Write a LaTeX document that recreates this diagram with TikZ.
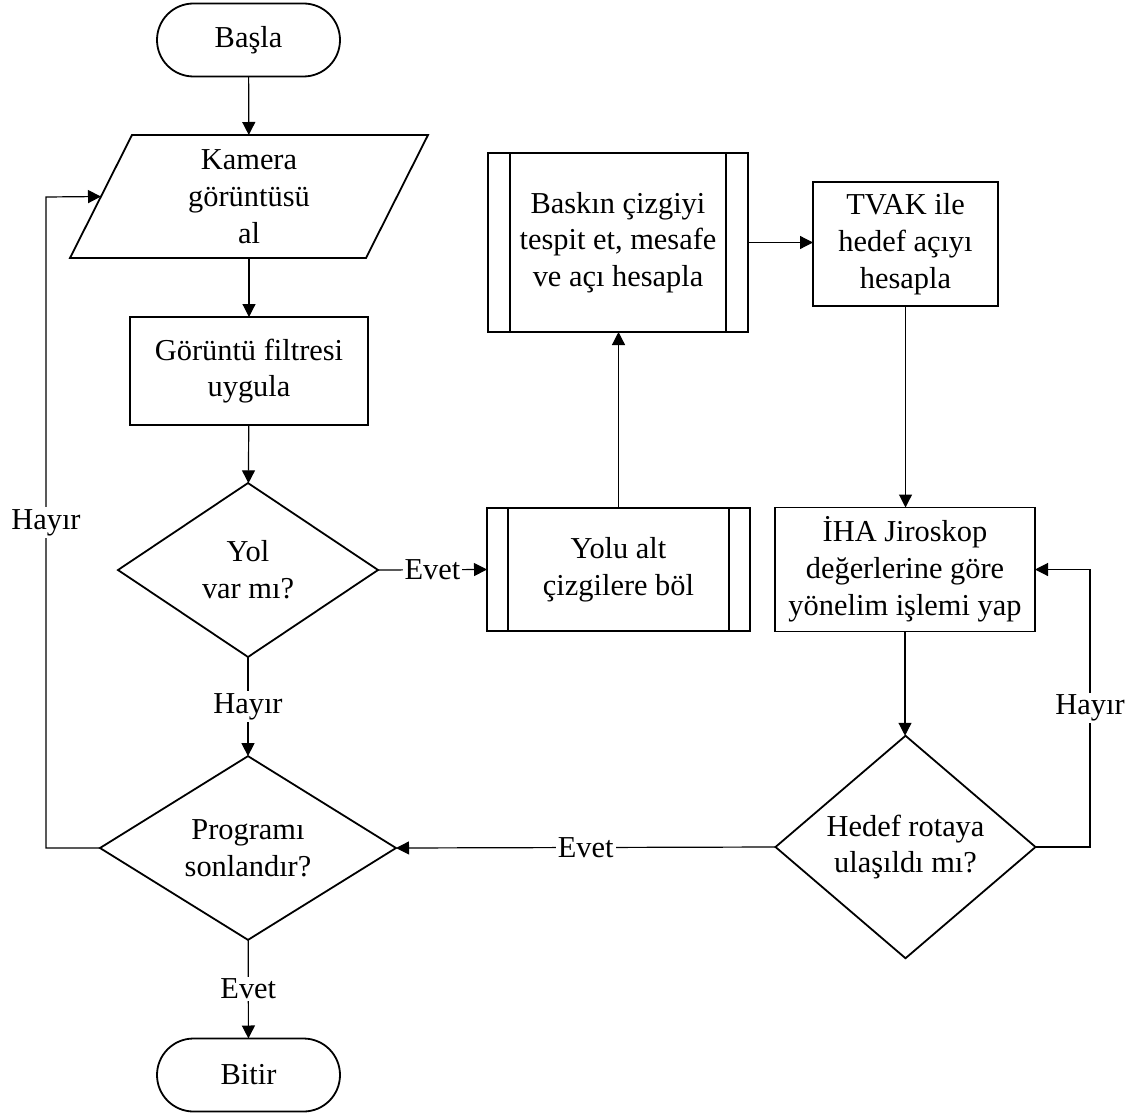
\documentclass[tikz,border=0pt]{standalone}
\usepackage{fontspec}
\setmainfont{Liberation Serif}
\usetikzlibrary{shapes.geometric,shapes.misc,arrows.meta}
\begin{document}
\begin{tikzpicture}[
  x=0.5pt, y=-0.5pt,
  every node/.style={font=\fontsize{15.2}{18.4}\selectfont, align=center},
  shp/.style={draw, line width=0.9pt, inner sep=0pt, outer sep=0pt},
  term/.style={shp, rounded rectangle, minimum width=91.5pt, minimum height=36.5pt},
  box/.style={shp, rectangle},
  decision/.style={shp, diamond},
  arr/.style={line width=0.6pt, -{Triangle[length=6.5pt,width=6.5pt]}},
  lbl/.style={fill=white, inner sep=1pt}
]
\useasboundingbox (0,0) rectangle (1138,1117);

% terminals
\node[term] (start) at (248.5,40) {Başla};
\node[term] (stop) at (248.5,1075) {Bitir};

% input (parallelogram drawn around a plain node)
\node[inner sep=0pt, outer sep=0pt, minimum width=148pt, minimum height=61.5pt] (cam) at (249,196.5)
  {Kamera\\görüntüsü\\al};
\draw[line width=0.9pt] ([xshift=15.5pt]cam.north west) -- ([xshift=15.5pt]cam.north east)
  -- ([xshift=-15.5pt]cam.south east) -- ([xshift=-15.5pt]cam.south west) -- cycle;

% processes
\node[box, minimum width=119pt, minimum height=54pt] (filt) at (249,371) {Görüntü filtresi\\uygula};
\node[box, minimum width=131.5pt, minimum height=61.5pt] (yolu) at (618.5,569.5) {Yolu alt\\çizgilere böl};
\node[box, minimum width=130pt, minimum height=89.5pt] (bask) at (618,242.5) {Baskın çizgiyi\\tespit et, mesafe\\ve açı hesapla};
\node[box, minimum width=92.5pt, minimum height=62pt] (tvak) at (905.5,244) {TVAK ile\\hedef açıyı\\hesapla};
\node[box, minimum width=130pt, minimum height=62pt] (iha) at (905,569.5) {İHA Jiroskop\\değerlerine göre\\yönelim işlemi yap};

% side bars of the predefined processes
\foreach \n/\o in {yolu/10.5pt, bask/11pt}{
  \draw[line width=0.9pt] ([xshift=\o]\n.north west) -- ([xshift=\o]\n.south west);
  \draw[line width=0.9pt] ([xshift=-\o]\n.north east) -- ([xshift=-\o]\n.south east);
}

% decisions
\node[decision, minimum width=130pt, minimum height=87pt] (yol) at (248,570) {Yol\\var mı?};
\node[decision, minimum width=148pt, minimum height=87.5pt] (prog) at (248,848) {Programı\\sonlandır?};
\node[decision, minimum width=130pt, minimum height=98pt] (hedef) at (905.5,847) {Hedef rotaya\\ulaşıldı mı?};

% loop corners
\coordinate (lloop) at (46,197);
\coordinate (rloop) at (1090,570);

% connectors
\draw[arr] (start) -- (cam);
\draw[arr] (cam) -- (filt);
\draw[arr] (filt) -- (yol);
\draw[arr] (yol.south) -- node[lbl]{Hayır} (prog.north);
\draw[arr] (yol.east) -- node[lbl]{Evet} (yolu.west);
\draw[arr] (yolu.north) -- (yolu.north |- bask.south);
\draw[arr] (bask.east) -- (bask.east -| tvak.west);
\draw[arr] (tvak.south) -- (tvak.south |- iha.north);
\draw[arr] (iha.south) -- (iha.south |- hedef.north);
\draw[arr] (hedef.east) -| node[lbl, pos=0.75]{Hayır} (iha.east -| rloop) -- (iha.east);
\draw[arr] (hedef.west) -- node[lbl]{Evet} (prog.east);
\draw[arr] (prog.west) -| node[lbl, pos=0.75]{Hayır} (lloop) -- (cam.west);
\draw[arr] (prog) -- node[lbl]{Evet} (stop);
\end{tikzpicture}
\end{document}
